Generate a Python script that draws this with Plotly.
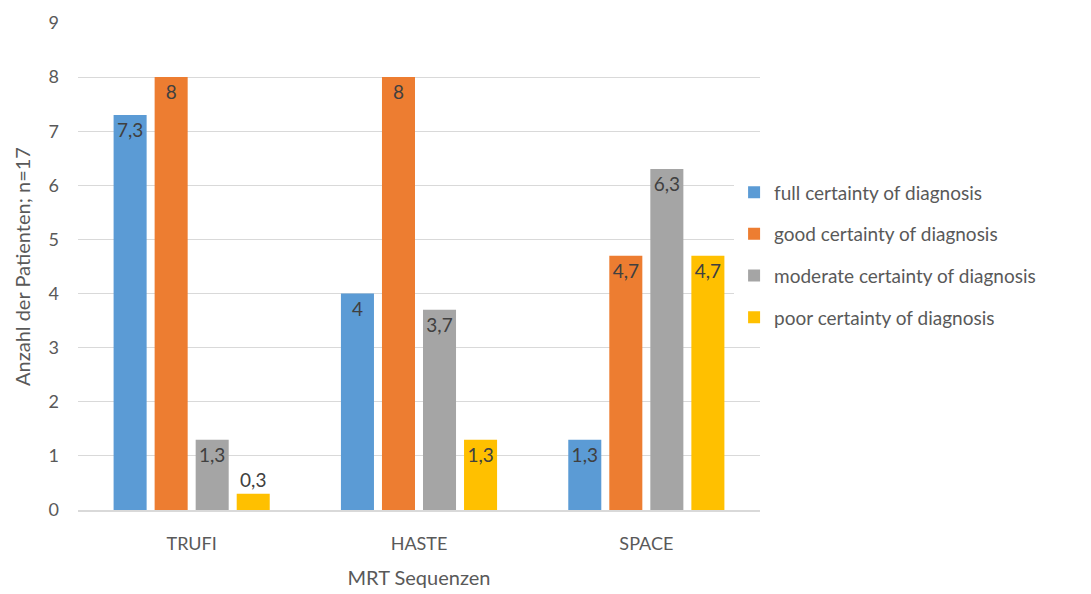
import plotly.graph_objects as go

categories = ["TRUFI", "HASTE", "SPACE"]
series_names = ["full certainty of diagnosis", "good certainty of diagnosis",
                "moderate certainty of diagnosis", "poor certainty of diagnosis"]
full_vals = [7.3, 4, 1.3]
good_vals = [8, 8, 4.7]
moderate_vals = [1.3, 3.7, 6.3]
poor_vals = [0.3, 1.3, 4.7]
colors = ["#5B9BD5", "#ED7D31", "#A5A5A5", "#FFC000"]
y_ticks = [0, 1, 2, 3, 4, 5, 6, 7, 8, 9]

FONT = "Lato, 'Open Sans', sans-serif"

def fmt(v):
    return f"{v:g}".replace(".", ",")

fig = go.Figure()
for i, (name, vals) in enumerate(zip(series_names, [full_vals, good_vals, moderate_vals, poor_vals])):
    positions = ["outside" if v < 0.6 else "inside" for v in vals]
    fig.add_trace(go.Bar(
        x=categories, y=vals, name=name,
        marker=dict(color=colors[i], line=dict(color=colors[i], width=0)),
        text=[fmt(v) for v in vals],
        textposition=positions,
        insidetextanchor="end",
        constraintext="none",
        cliponaxis=False,
        textfont=dict(family=FONT, size=19, color="#404040"),
        legendgroup=f"g{i}",
    ))

fig.update_layout(
    width=1091, height=594,
    margin=dict(l=78, r=331, t=23, b=84),
    paper_bgcolor="white", plot_bgcolor="white",
    barmode="group", bargap=0.278, bargroupgap=0.195,
    font=dict(family=FONT, color="#595959"),
    legend=dict(x=0.962, xanchor="left", y=0.524, yanchor="middle",
                font=dict(family=FONT, size=19, color="#595959"),
                tracegroupgap=14, itemwidth=30),
    xaxis=dict(title=dict(text="MRT Sequenzen", font=dict(size=20, color="#595959"), standoff=18),
               tickfont=dict(size=18, color="#595959"), showgrid=False,
               showline=True, linecolor="#d9d9d9", linewidth=1.5, ticks="", ticklen=0,
               ticklabelstandoff=17, automargin=False),
    yaxis=dict(title=dict(text="Anzahl der Patienten; n=17", font=dict(size=20, color="#595959"), standoff=12),
               range=[0, 9], tickvals=y_ticks, tickfont=dict(size=18, color="#595959"),
               showgrid=True, gridcolor="#d9d9d9", gridwidth=1, zeroline=False,
               showline=False, ticks="", ticklabelstandoff=18, automargin=False),
    showlegend=True,
)

fig.write_html("out.html")
